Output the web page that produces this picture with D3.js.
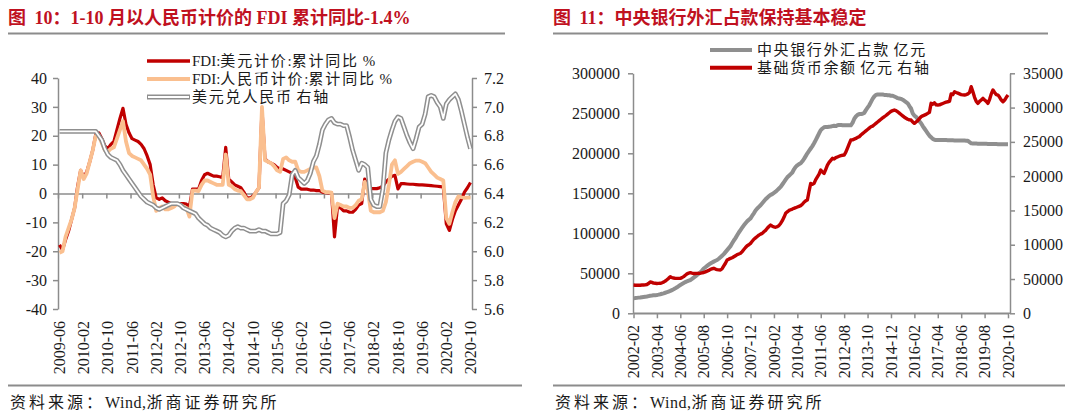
<!DOCTYPE html>
<html><head><meta charset="utf-8">
<script src="https://cdn.jsdelivr.net/npm/d3@7"></script>
<style>
body{margin:0;background:#fff;}
svg{display:block;}
text{font-family:"Liberation Serif","Noto Sans CJK SC",serif;fill:#1a1a1a;}
.axis path,.axis line{stroke:#8c8c8c;stroke-width:1.5;}
</style></head><body>
<svg id="c" width="1080" height="415"></svg>
<script>
// ---------- Chart 1 data (monthly 2009-06 .. 2020-10) ----------
const c1Start = [2009, 6], c1Count = 137;
const c1TickLabels = ["2009-06","2010-02","2010-10","2011-06","2012-02","2012-10","2013-06","2014-02","2014-10","2015-06","2016-02","2016-10","2017-06","2018-02","2018-10","2019-06","2020-02","2020-10"];
const fdiUSD = [
 -17.8,-19.5,-16,-13,-9,-5,2.5,
 8,5.5,7.5,11,15,20.5,21,19,16.5,15.5,17,18,
 22,26,29.5,24,21,19,18.5,18,17,15.5,13,10,
 3,-1.5,-2,-1.5,-2.5,-3,-3.5,-4,-3.5,-3.5,-3.5,-3.7,
 -4.5,1.5,1.5,1.5,4.5,6.5,7,6.5,6,6,5.8,5.5,
 16,5,4,3,2.5,2,0.5,-1.5,-1.5,-1,0.5,2,
 29,12,11,10.5,10,9,8.5,8.5,8,7.5,7,5.5,
 2.2,1.5,1.5,1.5,1.2,1.2,1,1,0.5,0.3,0.2,0.2,
 -15,-4.5,-5,-6,-6,-6.5,-6.5,-5.5,-4,-3.5,5,2,
 1.7,1.7,1.7,2,2.5,4,5,6,6.3,1.6,3.4,3.4,
 3.3,3.2,3.2,3.1,3,3,2.9,2.8,2.7,2.6,2.5,2.4,
 2.3,-10.5,-12.8,-9,-6,-4,-2,0.5,2,3.8];
const fdiCNY = [
 -20.5,-20,-15,-12,-9,-5,1.5,
 8,5,7,11,15,20,20,17.5,15,14.5,15.5,16,
 19,22,25,18,14,13,12.5,12,11.5,10,8.5,6.5,
 -1,-6,-5,-4.5,-5.5,-5.5,-5,-4.5,-3.5,-4,-4.5,-5,
 -8,1,1,0.8,3,4.5,4.5,4,3.5,3,3,3,
 13.5,3,2.5,1.5,1,0.8,-0.5,-2,-2,-1.5,0.5,2,
 30,11.5,11,10.5,9.5,8,7.5,12,12.5,11.5,11,11,
 8,7.5,7.5,8,8.5,9,9,6,1,0.5,0.5,0.3,
 -8.5,-3.5,-4,-4.5,-4.5,-5,-5,-4,-2.5,-2,4,1.5,
 -6,-6.5,-6.5,-6.5,-6,-3,3,10,11.5,6.8,7.5,8.5,
 9.5,10.5,11,11.4,11.4,11,10.5,9,7.5,6.5,5.5,5,
 4.5,-8.5,-10.5,-6.5,-3,-1,-1.3,-1.5,-1.4,-1.4];
const usdCny = [
 6.83,6.83,6.83,6.83,6.83,6.83,6.83,
 6.83,6.83,6.83,6.83,6.83,6.83,6.80,6.77,6.71,6.67,6.65,6.64,
 6.63,6.60,6.56,6.53,6.50,6.47,6.44,6.41,6.38,6.36,6.34,6.33,
 6.32,6.30,6.29,6.30,6.31,6.32,6.33,6.33,6.33,6.32,6.30,6.29,
 6.28,6.27,6.26,6.23,6.21,6.19,6.18,6.16,6.15,6.14,6.13,6.11,
 6.10,6.11,6.14,6.16,6.17,6.16,6.16,6.15,6.14,6.14,6.14,6.15,
 6.14,6.14,6.13,6.12,6.12,6.12,6.13,6.33,6.35,6.39,6.53,6.56,
 6.51,6.49,6.47,6.49,6.54,6.62,6.66,6.74,6.84,6.88,6.91,6.92,
 6.89,6.88,6.88,6.87,6.87,6.79,6.70,6.63,6.56,6.61,6.60,6.58,
 6.36,6.32,6.31,6.31,6.43,6.68,6.77,6.84,6.90,6.93,6.92,6.86,
 6.80,6.75,6.71,6.78,6.86,6.88,6.95,7.07,7.08,7.07,7.03,7.00,
 6.92,7.02,7.05,7.07,7.09,7.05,6.97,6.88,6.79,6.71];
const c1LeftTicks = [-40,-30,-20,-10,0,10,20,30,40];
const c1RightTicks = [5.6,5.8,6.0,6.2,6.4,6.6,6.8,7.0,7.2];
const c1Legend = ["FDI:美元计价:累计同比 %","FDI:人民币计价:累计同比 %","美元兑人民币 右轴"];

// ---------- Chart 2 data (monthly 2002-02 .. 2020-10) ----------
const c2Start = [2002, 2], c2Count = 225;
const c2TickLabels = ["2002-02","2003-04","2004-06","2005-08","2006-10","2007-12","2009-02","2010-04","2011-06","2012-08","2013-10","2014-12","2016-02","2017-04","2018-06","2019-08","2020-10"];
const fxPosition = [
 18800,19000,19300,19600,19800,20100,20400,20700,21000,21500,22000,
 22200,22500,22700,22900,23300,23800,24400,25000,25700,26400,27200,28000,
 29000,30000,31200,32500,34000,35400,36600,37800,39000,40000,40800,41600,
 43000,44600,46200,47800,49500,51200,53500,56000,57600,59200,60800,62300,
 63500,64600,65600,66600,68200,70000,72000,74000,76500,79000,81500,84000,
 87500,91000,94000,97500,101000,104000,107000,110000,112500,115000,117000,118700,
 122000,125000,128500,131000,133000,135000,137500,140000,142500,144500,146500,148000,
 149000,150500,152000,154000,156000,158000,161000,164000,167000,170000,172000,174000,
 176000,180000,183000,185000,186500,187500,190000,193000,196500,200000,203000,206000,
 209000,212500,216500,220700,225000,229000,231000,232500,233000,233000,233300,233500,
 234000,234500,234000,235000,235500,235500,235000,235000,235000,235000,235000,235000,
 238000,243000,246000,248000,249000,249000,249500,250500,254000,257000,260000,264000,
 268000,271000,273000,273500,273500,273500,273500,273000,273000,272500,272500,272000,
 272000,271000,270000,269000,268500,268000,267000,265500,264000,262500,259000,256000,
 250000,247000,245500,243000,240000,237500,234000,231000,228000,225000,222000,220000,
 218000,217000,216500,216500,216500,216500,216500,216500,216500,216400,216300,216200,
 216200,216100,216100,216000,216000,216000,216000,215900,215800,215700,214000,212500,
 212300,212200,212100,212000,212000,212000,211900,211800,211800,211700,211700,211600,
 211600,211500,211500,211400,211400,211300,211300,211300,211300,211300];
const baseMoney = [
 4120,4100,4110,4100,4090,4120,4130,4150,4200,4350,4580,
 4500,4400,4380,4350,4360,4380,4450,4550,4700,4900,5100,5340,
 5200,5150,5100,5100,5100,5100,5200,5350,5550,5750,5850,5920,
 5850,5800,5800,5820,5830,5850,5900,5950,6050,6150,6250,6400,
 6500,6560,6450,6380,6330,6310,6500,6900,7300,7770,7900,8000,
 8100,8250,8400,8550,8650,8750,9000,9300,9600,9850,10000,10200,
 10500,10800,11000,11200,11400,11550,11660,11900,12100,12400,12650,12870,
 12700,12600,12550,12630,12800,13100,13500,14000,14580,14800,15000,15100,
 15200,15310,15400,15500,15600,15700,15900,16200,16400,16520,17800,18950,
 18800,18950,19500,19900,20300,20900,20600,20400,21000,21600,22000,22300,
 22600,22500,22700,22800,22900,23000,23050,23080,23500,24100,24700,25270,
 25300,25400,25500,25650,25750,26000,26200,26400,26600,26800,27000,27200,
 27300,27500,27700,27900,28100,28300,28500,28660,28850,29050,29250,29450,
 29550,29640,29550,29400,29200,29000,28800,28600,28450,28300,28200,28180,
 27900,27700,27900,28100,28400,28660,28800,28900,29000,29160,29300,30620,
 30500,30700,30400,30370,30400,30500,30600,30700,30800,30850,30900,32000,
 31900,32310,32200,32100,32000,31900,31850,31830,31900,32000,32200,33040,
 32300,31500,30900,30620,30900,31100,31350,31100,30900,30620,31200,32000,
 32560,32200,31900,31830,31500,31100,30850,31100,31500,31830];
const c2LeftTicks = [0,50000,100000,150000,200000,250000,300000];
const c2RightTicks = [0,5000,10000,15000,20000,25000,30000,35000];
const c2RightTickLabels = ["0","50000","10000","15000","20000","25000","30000","35000"];
const c2Legend = ["中央银行外汇占款 亿元","基础货币余额 亿元 右轴"];

const titles = ["图 10：1-10 月以人民币计价的 FDI 累计同比-1.4%","图 11：中央银行外汇占款保持基本稳定"];
const sourceText = "资料来源：Wind,浙商证券研究所";

// ---------- helpers ----------
const svg = d3.select("#c");
const CJK = /[\u2E80-\u9FFF\uFF00-\uFFEF\u3000-\u303F]/;
function mixText(g, x, y, str, size, cjkSp, opts={}) {
  const t = g.append("text").attr("x",x).attr("y",y).attr("font-size",size).style("white-space","pre");
  if (opts.weight) t.attr("font-weight",opts.weight);
  if (opts.fill) t.style("fill",opts.fill);
  str.match(/[\u2E80-\u9FFF\uFF00-\uFFEF\u3000-\u303F]+|[^\u2E80-\u9FFF\uFF00-\uFFEF\u3000-\u303F]+/g).forEach((r,k)=>{
    const ts = t.append("tspan").text(r).attr("letter-spacing", CJK.test(r)?cjkSp:(opts.latinSp||0));
    if (opts.spaceDx && k===1 && r.startsWith(" ")) ts.attr("dx", opts.spaceDx);
  });
  return t;
}
function monthList(start, n){
  const out=[]; let y=start[0], m=start[1];
  for(let i=0;i<n;i++){ out.push(y+"-"+String(m).padStart(2,"0")); m++; if(m>12){m=1;y++;} }
  return out;
}
function styleAxis(g){ g.attr("class","axis"); g.selectAll("text").attr("font-size",16).style("fill","#1a1a1a").attr("font-family","Liberation Serif"); }

// ---------- titles / rules / footers ----------
[[8,505,522],[553,1048,1065]].forEach((p,k)=>{
  mixText(svg, p[0], 24, titles[k], 18, 0, {weight:"bold", fill:"#c0111f", spaceDx:4});
  svg.append("line").attr("x1",p[0]).attr("x2",p[1]).attr("y1",33.5).attr("y2",33.5).attr("stroke","#8c8c8c").attr("stroke-width",2);
  svg.append("line").attr("x1",p[0]).attr("x2",p[2]).attr("y1",385.5).attr("y2",385.5).attr("stroke","#8c8c8c").attr("stroke-width",2);
  mixText(svg, p[0]+2, 408, sourceText, 16, 3, {latinSp:0.5});
});

// ---------- Chart 1 ----------
(function(){
  const months = monthList(c1Start, c1Count);
  const xB = d3.scaleLinear().domain([0, c1Count]).range([58, 472]);
  const xC = i => xB(i + 0.5);
  const yL = d3.scaleLinear().domain([-40, 40]).range([309, 78]);
  const yR = d3.scaleLinear().domain([5.6, 7.2]).range([309, 78]);
  const g = svg.append("g");

  const gl = g.append("g").attr("transform","translate(58,0)")
    .call(d3.axisLeft(yL).tickValues(c1LeftTicks).tickSize(5).tickSizeOuter(0).tickPadding(6).tickFormat(d=>String(d)));
  styleAxis(gl);
  const gr = g.append("g").attr("transform","translate(472,0)")
    .call(d3.axisRight(yR).tickValues(c1RightTicks).tickSize(5).tickSizeOuter(0).tickPadding(7).tickFormat(d3.format(".1f")));
  styleAxis(gr);
  const tickIdx = c1TickLabels.map(l=>months.indexOf(l));
  const gx = g.append("g").attr("transform","translate(0,"+yL(0)+")")
    .call(d3.axisBottom(xB).tickValues(tickIdx).tickSize(5).tickSizeOuter(0).tickFormat(""));
  styleAxis(gx);
  g.append("g").selectAll("text").data(tickIdx).join("text")
    .attr("transform", i=>"translate("+xC(i)+",321) rotate(-90)")
    .attr("text-anchor","end").attr("dy","0.35em").attr("font-size",16)
    .text((i,k)=>c1TickLabels[k]);

  const lineL = d3.line().x((d,i)=>xC(i)).y(d=>yL(d));
  const lineR = d3.line().x((d,i)=>xC(i)).y(d=>yR(d));
  g.append("path").attr("d",lineL(fdiUSD)).attr("fill","none").attr("stroke","#c00000").attr("stroke-width",3.2).attr("stroke-linejoin","round");
  g.append("path").attr("d",lineL(fdiCNY)).attr("fill","none").attr("stroke","#fabf8f").attr("stroke-width",3.8).attr("stroke-linejoin","round");
  g.append("path").attr("d",lineR(usdCny)).attr("fill","none").attr("stroke","#8f8f8f").attr("stroke-width",4.8).attr("stroke-linejoin","round");
  g.append("path").attr("d",lineR(usdCny)).attr("fill","none").attr("stroke","#ffffff").attr("stroke-width",1.8).attr("stroke-linejoin","round");

  // legend
  const ly = [61, 79, 97];
  g.append("line").attr("x1",147).attr("x2",190).attr("y1",ly[0]).attr("y2",ly[0]).attr("stroke","#c00000").attr("stroke-width",3.5);
  g.append("line").attr("x1",147).attr("x2",190).attr("y1",ly[1]).attr("y2",ly[1]).attr("stroke","#fabf8f").attr("stroke-width",4);
  g.append("line").attr("x1",147).attr("x2",190).attr("y1",ly[2]).attr("y2",ly[2]).attr("stroke","#8f8f8f").attr("stroke-width",4.8);
  g.append("line").attr("x1",148).attr("x2",189).attr("y1",ly[2]).attr("y2",ly[2]).attr("stroke","#fff").attr("stroke-width",1.8);
  c1Legend.forEach((s,k)=>mixText(g, 192, ly[k]+5, s, 15, 1.8));
})();

// ---------- Chart 2 ----------
(function(){
  const months = monthList(c2Start, c2Count);
  const x = d3.scaleLinear().domain([0, c2Count-1]).range([633.5, 1008]);
  const yA = d3.scaleLinear().domain([0, 300000]).range([313.3, 73.3]);
  const yB = d3.scaleLinear().domain([0, 35000]).range([313.3, 73.3]);
  const g = svg.append("g");

  const gl = g.append("g").attr("transform","translate(633,0)")
    .call(d3.axisLeft(yA).tickValues(c2LeftTicks).tickSize(5).tickSizeOuter(0).tickPadding(8).tickFormat(d=>String(d)));
  styleAxis(gl);
  const gr = g.append("g").attr("transform","translate(1010,0)")
    .call(d3.axisRight(yB).tickValues(c2RightTicks).tickSize(5).tickSizeOuter(0).tickPadding(8).tickFormat((d,i)=>c2RightTickLabels[i]));
  styleAxis(gr);
  const tickIdx = c2TickLabels.map(l=>months.indexOf(l));
  const gx = g.append("g").attr("transform","translate(0,313.3)")
    .call(d3.axisBottom(x).tickValues(tickIdx).tickSize(5).tickSizeOuter(0).tickFormat(""));
  styleAxis(gx);
  g.append("line").attr("x1",633).attr("x2",1010).attr("y1",313.3).attr("y2",313.3).attr("stroke","#8c8c8c").attr("stroke-width",1.5);
  g.append("g").selectAll("text").data(tickIdx).join("text")
    .attr("transform", i=>"translate("+x(i)+",325) rotate(-90)")
    .attr("text-anchor","end").attr("dy","0.35em").attr("font-size",16)
    .text((i,k)=>c2TickLabels[k]);

  const lineA = d3.line().x((d,i)=>x(i)).y(d=>yA(d));
  const lineB = d3.line().x((d,i)=>x(i)).y(d=>yB(d));
  g.append("path").attr("d",lineA(fxPosition)).attr("fill","none").attr("stroke","#8f8f8f").attr("stroke-width",4).attr("stroke-linejoin","round");
  g.append("path").attr("d",lineB(baseMoney)).attr("fill","none").attr("stroke","#c00000").attr("stroke-width",3.4).attr("stroke-linejoin","round");

  const ly = [50, 67.7];
  g.append("line").attr("x1",710).attr("x2",752).attr("y1",ly[0]).attr("y2",ly[0]).attr("stroke","#8f8f8f").attr("stroke-width",4);
  g.append("line").attr("x1",710).attr("x2",752).attr("y1",ly[1]).attr("y2",ly[1]).attr("stroke","#c00000").attr("stroke-width",4);
  c2Legend.forEach((s,k)=>mixText(g, 757, ly[k]+5, s, 15, 1.6));
})();
</script></body></html>
